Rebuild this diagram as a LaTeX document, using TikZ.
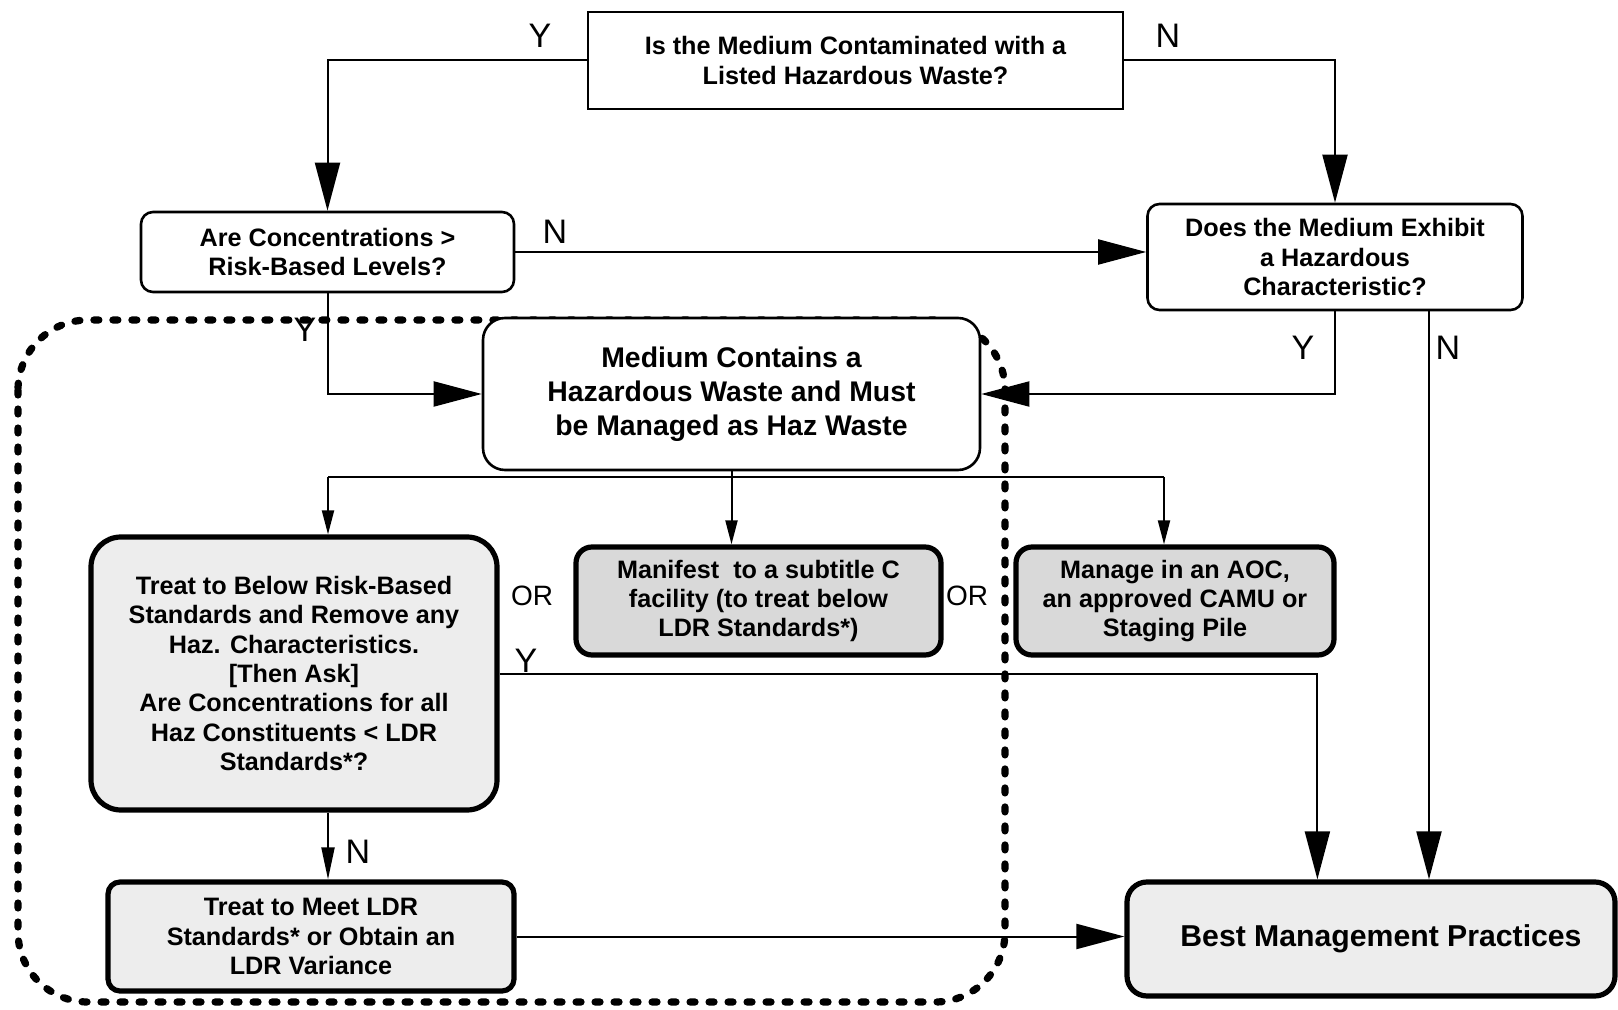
\documentclass[tikz,border=0pt]{standalone}
\usepackage{fontspec}
\setmainfont{Liberation Sans}
\usetikzlibrary{arrows.meta,calc}

\def\px{0.5pt}
\tikzset{
    qbox/.style={draw, align=center, inner sep=0pt, line width=1.3pt, fill=white,
        font=\fontsize{12.6}{14.7}\selectfont\bfseries},
    roundbox/.style={qbox, rounded corners=6pt},
    heavybox/.style={qbox, line width=2.6pt, fill=black!7},
    yn/.style={inner sep=0pt, font=\fontsize{17}{17}\selectfont},
    orlabel/.style={inner sep=0pt, font=\fontsize{14}{14}\selectfont},
    link/.style={line width=1pt},
    bigarrow/.style={link, -{Triangle[length=24pt,width=12.5pt]}},
    midarrow/.style={link, -{Triangle[length=16pt,width=6.5pt]}},
    smallarrow/.style={link, -{Triangle[length=12pt,width=6pt]}},
    hazregion/.style={line width=3.6pt, line cap=round, dash pattern=on 2.5pt off 7pt, rounded corners=35pt}
}

\begin{document}
\begin{tikzpicture}[x=\px, y=-\px]
    \useasboundingbox (0,0) rectangle (1618,1010);

    % Region of the haz waste options
    \draw[hazregion] (18,320) rectangle (1005,1002);

    % Questions
    \node[qbox, minimum width=535*\px, minimum height=97*\px] (listed) at (855.5,60.5)
        {Is the Medium Contaminated with a\\ Listed Hazardous Waste?};
    \node[roundbox, minimum width=373*\px, minimum height=80*\px] (risk) at (327.5,252)
        {Are Concentrations >\\ Risk-Based Levels?};
    \node[roundbox, minimum width=375*\px, minimum height=106*\px] (charac) at (1335,257)
        {Does the Medium Exhibit\\ a Hazardous\\ Characteristic?};
    \node[roundbox, rounded corners=11pt, minimum width=497*\px, minimum height=152*\px,
        font=\fontsize{14.2}{17}\selectfont\bfseries] (haz) at (731.5,394)
        {Medium Contains a\\ Hazardous Waste and Must\\ be Managed as Haz Waste};

    % Options
    \node[heavybox, rounded corners=15pt, minimum width=406*\px, minimum height=273*\px] (treat) at (294,673.5)
        {Treat to Below Risk-Based\\ Standards and Remove any\\ Haz. Characteristics.\\ {[Then Ask]}\\
         Are Concentrations for all\\ Haz Constituents < LDR\\ Standards*?};
    \node[heavybox, fill=black!15, rounded corners=8pt, minimum width=365*\px, minimum height=108*\px] (manif) at (758.5,601)
        {Manifest \ to a subtitle C\\ facility (to treat below\\ LDR Standards*)};
    \node[heavybox, fill=black!15, rounded corners=8pt, minimum width=318*\px, minimum height=108*\px] (aoc) at (1175,601)
        {Manage in an AOC,\\ an approved CAMU or\\ Staging Pile};
    \node[heavybox, rounded corners=6pt, minimum width=406*\px, minimum height=109*\px] (ldr) at (311,936.5)
        {Treat to Meet LDR\\ Standards* or Obtain an\\ LDR Variance};
    \node[heavybox, rounded corners=10pt, minimum width=488*\px, minimum height=114*\px,
        font=\fontsize{15.1}{17}\selectfont\bfseries] (bmp) at (1371,939)
        {\hspace{10pt}Best Management Practices};

    % Helper points
    \coordinate (split) at ($(haz.south)+(0,7)$);
    \coordinate (sA) at (328,477);
    \coordinate (sC) at (1164,477);
    \coordinate (nOut) at ($(charac.south)+(94,0)$);
    \coordinate (yDrop) at ($(bmp.north west)+(193,0)$);

    % Connectors
    \draw[bigarrow] (listed.west) -| (risk.north);
    \draw[bigarrow] (listed.east) -| (charac.north);
    \draw[bigarrow] (risk.east) -- (risk.east -| charac.west);
    \draw[bigarrow] (risk.south) |- (haz.west);
    \draw[bigarrow] (charac.south) |- (haz.east);
    \draw[bigarrow] (nOut) -- (nOut |- bmp.north);

    \draw[link] (haz.south) -- (split);
    \draw[link] (sA) -- (sC);
    \draw[smallarrow] (sA) -- (sA |- treat.north);
    \draw[smallarrow] (split) -- (split |- manif.north);
    \draw[smallarrow] (sC) -- (sC |- aoc.north);

    \draw[bigarrow] (treat.east) -| (yDrop);
    \draw[midarrow] (sA |- treat.south) -- (sA |- ldr.north);
    \draw[bigarrow] (ldr.east) -- (ldr.east -| bmp.west);

    % Y / N labels
    \node[yn] (yListed) at (540,36) {Y};
    \node[yn] (nListed) at (1168,36) {N};
    \node[yn] (nRisk) at (555,232) {N};
    \node[yn] (yRisk) at (305,330) {Y};
    \node[yn] (yCharac) at (1303,348) {Y};
    \node[yn] (nCharac) at (1448,348) {N};
    \node[yn] (yTreat) at (526,661) {Y};
    \node[yn] (nTreat) at (358,852) {N};

    % OR labels
    \node[orlabel] (orA) at (532,596) {OR};
    \node[orlabel] (orB) at (967,596) {OR};

\end{tikzpicture}
\end{document}
